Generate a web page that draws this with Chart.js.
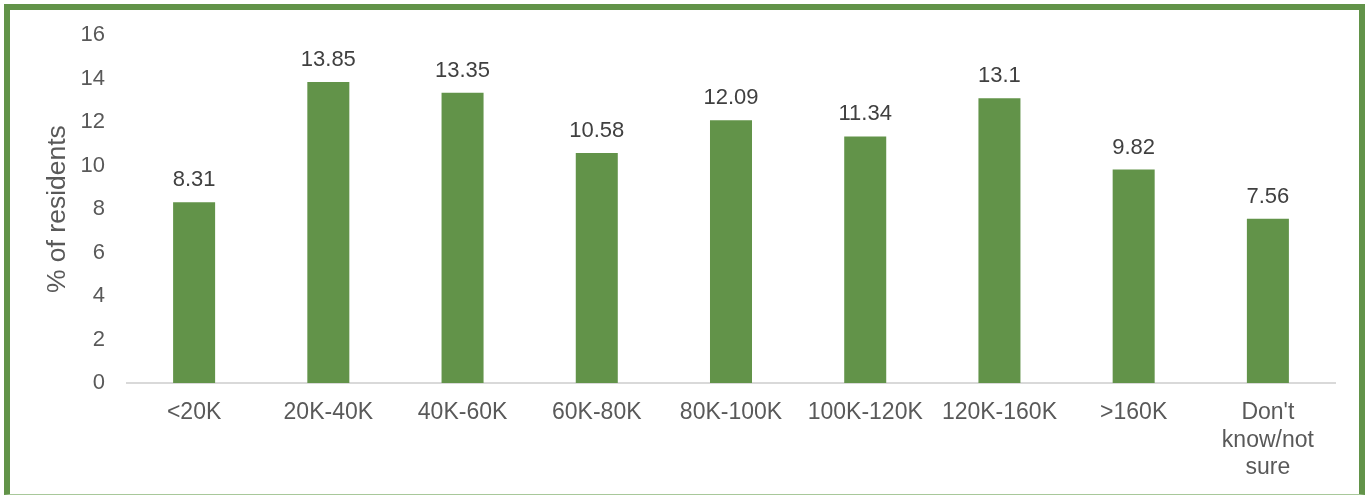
<!DOCTYPE html>
<html>
<head>
    <meta charset="UTF-8">
    <title>Household income</title>
    <script src="https://cdn.jsdelivr.net/npm/chart.js"></script>
    <style>
        body { margin: 0; background: #fff; }
        #wrap { position: relative; width: 1367px; height: 495px; }
        #frame {
            position: absolute; left: 4px; top: 4px; width: 1361px; height: 491px;
            box-sizing: border-box;
            border-left: 6px solid #629349; border-top: 6px solid #629349; border-right: 6px solid #629349;
            border-bottom: 1px solid #a8c89a;
            pointer-events: none;
        }
        canvas { position: absolute; left: 0; top: 0; }
    </style>
</head>
<body>
<div id="wrap">
    <canvas id="incomeChart" width="1367" height="495"></canvas>
    <div id="frame"></div>
</div>
<script>
    var categories = ['<20K', '20K-40K', '40K-60K', '60K-80K', '80K-100K', '100K-120K', '120K-160K', '>160K', ["Don't", 'know/not', 'sure']];
    var residents = [8.31, 13.85, 13.35, 10.58, 12.09, 11.34, 13.1, 9.82, 7.56];
    var yTicks = [0, 2, 4, 6, 8, 10, 12, 14, 16];

    var fontFamily = '"Liberation Sans", Arial, sans-serif';

    // value labels above each bar
    var barLabels = {
        id: 'barLabels',
        afterDatasetsDraw: function(chart) {
            var ctx = chart.ctx;
            var meta = chart.getDatasetMeta(0);
            ctx.save();
            ctx.font = '22px ' + fontFamily;
            ctx.fillStyle = '#404040';
            ctx.textAlign = 'center';
            ctx.textBaseline = 'alphabetic';
            meta.data.forEach(function(bar, i) {
                ctx.fillText(String(residents[i]), bar.x, bar.y - 16);
            });
            ctx.restore();
        }
    };

    var ctx = document.getElementById('incomeChart').getContext('2d');
    var chart = new Chart(ctx, {
        type: 'bar',
        data: {
            labels: categories,
            datasets: [{
                label: '% of residents',
                data: residents,
                backgroundColor: '#629349',
                barPercentage: 0.313,
                categoryPercentage: 1.0
            }]
        },
        options: {
            responsive: false,
            animation: false,
            layout: { padding: { top: 35, right: 32, bottom: 0, left: 0 } },
            plugins: {
                legend: { display: false },
                tooltip: { enabled: false }
            },
            scales: {
                x: {
                    grid: { display: false, drawTicks: false },
                    border: { display: true, color: '#d9d9d9', width: 2 },
                    ticks: {
                        color: '#595959',
                        padding: 16,
                        maxRotation: 0,
                        autoSkip: false,
                        font: { family: fontFamily, size: 23, lineHeight: 1.2 }
                    },
                    afterFit: function(scale) { scale.height = 112; }
                },
                y: {
                    min: 0,
                    max: 16,
                    grid: { display: false, drawTicks: false },
                    border: { display: false },
                    afterBuildTicks: function(scale) {
                        scale.ticks = yTicks.map(function(v) { return { value: v }; });
                    },
                    ticks: {
                        color: '#595959',
                        padding: 22,
                        font: { family: fontFamily, size: 22 }
                    },
                    title: {
                        display: true,
                        text: '% of residents',
                        color: '#595959',
                        padding: { top: 42, bottom: 0 },
                        font: { family: fontFamily, size: 26.5 }
                    },
                    afterFit: function(scale) { scale.width = 127; }
                }
            }
        },
        plugins: [barLabels]
    });
</script>
</body>
</html>
